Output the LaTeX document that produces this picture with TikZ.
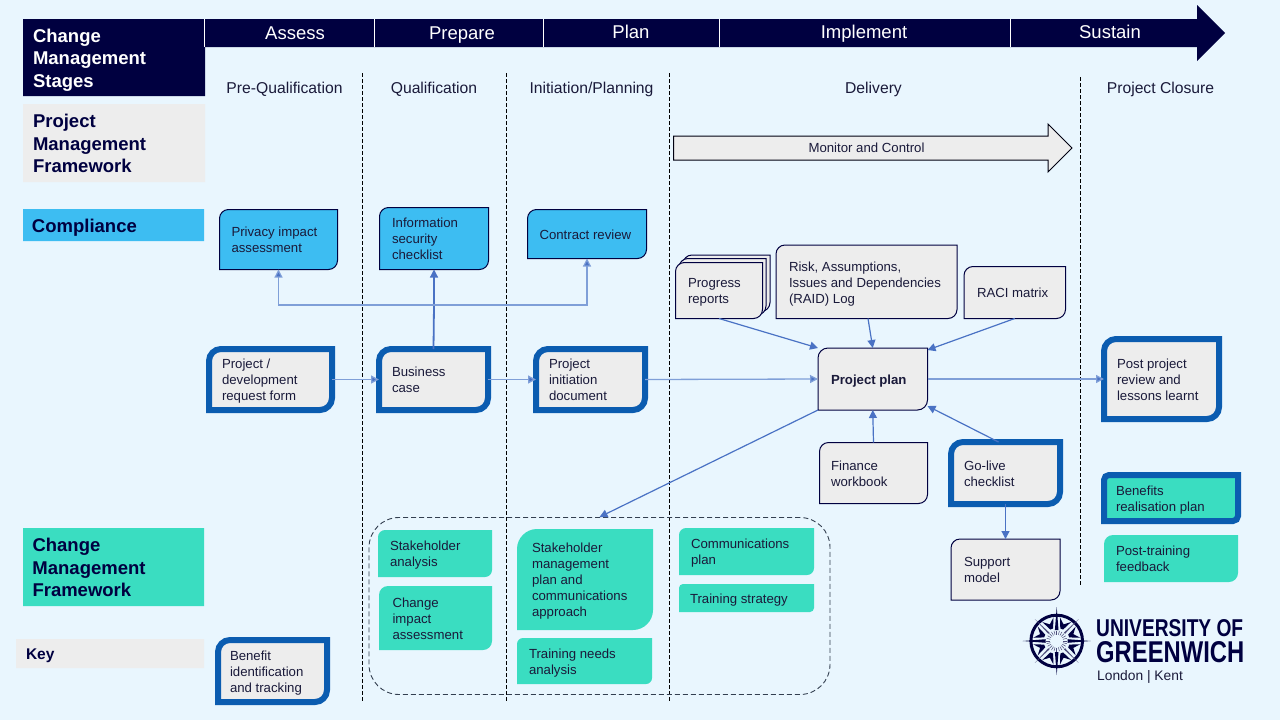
\documentclass[tikz,border=0pt]{standalone}
\usepackage{fontspec}
\usepackage{graphicx}
\setmainfont{Liberation Sans}
\usetikzlibrary{arrows.meta,calc}
\definecolor{bgc}{HTML}{E9F6FE}
\definecolor{navy}{HTML}{000040}
\definecolor{greyf}{HTML}{EDEDED}
\definecolor{skyf}{HTML}{3DBDF2}
\definecolor{tealf}{HTML}{3ADDC1}
\definecolor{thickb}{HTML}{0B5CB0}
\definecolor{arrowc}{HTML}{4A72C4}
\definecolor{arrowl}{HTML}{7F9FD8}
\definecolor{txt}{HTML}{1A1A3A}
\definecolor{groupc}{HTML}{333F50}
\newcommand{\headf}{\fontsize{18.5}{22.5}\selectfont\bfseries}
\newcommand{\dbox}[9]{%
  \path[#6] ({#2+#7},#3) -- (#4,#3) -- (#4,{#5-#7})
    .. controls (#4,{#5-.45*#7}) and ({#4-.45*#7},#5) .. ({#4-#7},#5)
    -- (#2,#5) -- (#2,{#3+#7})
    .. controls (#2,{#3+.45*#7}) and ({#2+.45*#7},#3) .. ({#2+#7},#3) -- cycle;
  \pgfmathsetlengthmacro{\dw}{#4-#2}\pgfmathsetlengthmacro{\dh}{#5-#3}%
  \pgfmathsetlengthmacro{\dt}{#4-#2-#8}%
  \node[dnode,minimum width=\dw,minimum height=\dh] (#1) at ({(#2+#4)/2},{(#3+#5)/2})
    {\hspace*{#8pt}\raisebox{0pt}[\dimexpr\height+1pt\relax][0pt]{\parbox[b]{\dt}{\fontsize{13.2}{16}\selectfont\raggedright\color{txt}#9}}};%
}
\tikzset{
  dnode/.style={rectangle,inner sep=0pt,outer sep=0pt},
  thin box/.style={draw=navy,line width=1pt,fill=greyf},
  sky box/.style={draw=navy,line width=1pt,fill=skyf},
  heavy box/.style={draw=thickb,line width=6pt,fill=greyf,miter limit=10},
  heavy teal/.style={draw=thickb,line width=6pt,fill=tealf},
  teal box/.style={fill=tealf},
  grey band/.style={fill=greyf},
  sky band/.style={fill=skyf},
  navy band/.style={fill=navy},
  flow/.style={draw=arrowc,line width=1.2pt,-{Triangle[length=8pt,width=8pt,fill=arrowc]}},
  lightflow/.style={draw=arrowl,line width=1.3pt,-{Triangle[length=8pt,width=8pt,fill=arrowc]}},
  stage/.style={text=white,font=\fontsize{18.5}{22}\selectfont,inner sep=0pt,anchor=base},
  phase/.style={text=txt,font=\fontsize{15.7}{19}\selectfont,inner sep=0pt,anchor=base},
  divider/.style={draw=black,line width=1pt,dash pattern=on 3.5pt off 2.5pt},
}
\begin{document}
\begin{tikzpicture}[x=1pt,y=-1pt]
\useasboundingbox (0,0) rectangle (1280,720);
\fill[bgc] (0,0) rectangle (1280,720);

% header arrow
\fill[navy] (204,19) -- (1197,19) -- (1197,5) -- (1225,33) -- (1197,61) -- (1197,47) -- (204,47) -- cycle;
\node[stage] (assess) at (295,39.5) {Assess};
\node[stage] (prepare) at (462,39.5) {Prepare};
\node[stage] (planst) at (631,38.5) {Plan};
\node[stage] (implement) at (864,38.5) {Implement};
\node[stage] (sustain) at (1110,38.5) {Sustain};

% left bands
\dbox{hcm}{23}{19}{205}{96}{navy band}{0}{10}{\headf\color{white}Change\\Management\\Stages}
\dbox{hpm}{23}{104}{205}{182}{grey band}{0}{10}{\headf\color{navy}Project\\Management\\Framework}
\dbox{hco}{23}{209}{204}{241}{sky band}{0}{9}{\headf\color{navy}Compliance}
\dbox{hcf}{23}{528}{204}{606}{teal box}{0}{9.5}{\headf\color{navy}Change\\Management\\Framework}
\dbox{hkey}{16}{639}{204}{668}{grey band}{0}{10}{\fontsize{15.5}{18}\selectfont\bfseries\color{navy}Key}
\foreach \x in {204.5,374.5,543.5,719.5,1010.5}
  \draw[white,line width=1pt] (\x,19) -- (\x,47);

% dividers
\draw[divider] (362.5,73) -- (362.5,701);
\draw[divider] (506.5,73) -- (506.5,701);
\draw[divider] (669.5,73) -- (669.5,701);
\draw[divider] (1080.5,77) -- (1080.5,586);

% phases
\node[phase] (p1) at (284.5,93) {Pre-Qualification};
\node[phase] (p2) at (434,93) {Qualification};
\node[phase] (p3) at (591.5,93) {Initiation/Planning};
\node[phase] (p4) at (873.5,93) {Delivery};
\node[phase] (p5) at (1160.5,93) {Project Closure};

% monitor arrow
\path[thin box,draw=black!75!navy] (673.5,136) -- (1048,136) -- (1048,124) -- (1072,148) -- (1048,172) -- (1048,160) -- (673.5,160) -- cycle;
\node[inner sep=0pt,text=txt,font=\fontsize{13.2}{15}\selectfont] (monitor) at (866.5,148) {Monitor and Control};

% dashed group
\node[draw=groupc,line width=.9pt,dash pattern=on 5pt off 3pt,rounded corners=30pt,
  minimum width=461pt,minimum height=177pt,inner sep=0pt] (group) at (599.5,606) {};

% compliance
\dbox{privacy}{219.5}{209.5}{337.5}{269.5}{sky box}{9}{12}{Privacy impact\\assessment}
\dbox{infosec}{379.5}{207.5}{488.5}{269.5}{sky box}{9}{12.5}{Information\\security\\checklist}
\dbox{contract}{527.5}{209.5}{646.5}{258.5}{sky box}{9}{12}{Contract review}

% main row
\dbox{devform}{209}{349}{332}{410}{heavy box}{12}{13}{Project /\\development\\request form}
\dbox{bizcase}{379}{349}{488}{410}{heavy box}{12}{13}{Business\\case}
\dbox{pid}{536}{349}{645}{410}{heavy box}{12}{13}{Project\\initiation\\document}
\dbox{plan}{818}{348}{927.5}{410}{thin box}{10}{13}{\bfseries Project plan}
\dbox{postproj}{1104}{339}{1219}{419}{heavy box}{12}{13}{Post project\\review and\\lessons learnt}

% progress stack
\dbox{progc}{683}{255}{770}{311.5}{thin box}{9}{10}{}
\dbox{progb}{679}{258.5}{766}{315}{thin box}{9}{10}{}
\dbox{progress}{675.5}{262.5}{762.5}{318.5}{thin box}{9}{12.5}{Progress\\reports}
\dbox{raid}{776}{245}{957}{318.5}{thin box}{9}{13}{Risk, Assumptions,\\Issues and Dependencies\\(RAID) Log}
\dbox{raci}{964}{266.5}{1065.5}{318.5}{thin box}{9}{13}{RACI matrix}
\dbox{finance}{819.5}{442.5}{927.5}{503.5}{thin box}{9}{11.5}{Finance\\workbook}
\dbox{golive}{951}{442}{1060}{504}{heavy box}{12}{13}{Go-live\\checklist}
\dbox{support}{951}{539}{1060}{600}{thin box}{9}{13}{Support\\model}

% closure teal
\dbox{benefits}{1104}{475}{1238}{521}{heavy teal}{5}{12}{Benefits\\realisation plan}
\dbox{posttrain}{1104}{535}{1238}{582}{teal box}{9}{12}{Post-training\\feedback}

% change framework
\dbox{stake}{378}{530}{492}{577}{teal box}{7}{12}{Stakeholder\\analysis}
\dbox{impact}{379}{586}{492}{650}{teal box}{9}{13.5}{Change\\impact\\assessment}
\dbox{stakeplan}{517}{529}{653}{630}{teal box}{20}{15}{Stakeholder\\management\\plan and\\communications\\approach}
\dbox{tneeds}{517}{638}{652}{684}{teal box}{6}{12}{Training needs\\analysis}
\dbox{comms}{679}{528}{814}{575}{teal box}{7}{12}{Communications\\plan}
\dbox{tstrat}{679}{584}{814}{612}{teal box}{4}{11}{Training strategy}

% key
\dbox{keybox}{218}{640}{327}{702}{heavy box}{12}{12}{Benefit\\identification\\and tracking}

% connectors
\coordinate (junction) at (434,305);
\draw[flow] (junction) -- (infosec.south);
\draw[draw=arrowc,line width=1.8pt] (bizcase.north) -- (junction);
\draw[flow,draw=arrowl] (junction) -| (privacy.south);
\draw[flow,draw=arrowl] (junction) -| (contract.south);
\draw[lightflow] (devform.east) -- (bizcase.west);
\draw[lightflow] (bizcase.east) -- (pid.west);
\draw[lightflow] (pid.east) -- (plan.west);
\draw[lightflow] (plan.east) -- (postproj.west);
\draw[flow] (progress.south) -- (plan.north west);
\draw[flow] ([xshift=1.5pt]raid.south) -- (plan.north);
\draw[flow] (raci.south) -- ([yshift=-2pt]plan.north east);
\draw[flow] (finance.north) -- (plan.south);
\draw[flow] ([xshift=-7pt]golive.north) -- ([yshift=4pt]plan.south east);
\draw[flow] (golive.south) -- (support.north);
\draw[flow] (plan.south west) -- (group.north);

% logo
\begin{scope}[shift={(1056.7,641)}]
  \draw[navy,line width=3pt] (0,0) circle (25.8);
  \foreach \a in {0,90,180,270}
    \fill[navy,rotate=\a] (-1.8,-11) -- (0,-34) -- (1.8,-11) -- cycle;
  \foreach \a in {45,135,225,315}
    \fill[navy!70!white,rotate=\a] (-.8,-11) -- (0,-31) -- (.8,-11) -- cycle;
  \foreach \a in {22.5,67.5,...,337.5}
    \fill[navy,rotate=\a] (-6,-23) -- (-1.5,-13) -- (1.5,-13) -- (6,-23) -- (0,-18) -- cycle;
  \foreach \a in {0,15,...,345}
    \draw[navy!70!white,line width=.5pt,rotate=\a] (0,-6.5) -- (0,-10.5);
\end{scope}
\node[anchor=west,inner sep=0pt,text=navy] (logo1) at (1096,628.5)
  {\resizebox{147pt}{17pt}{\bfseries UNIVERSITY OF}};
\node[anchor=west,inner sep=0pt,text=navy] (logo2) at (1096,652)
  {\resizebox{148pt}{21pt}{\bfseries GREENWICH}};
\node[anchor=west,inner sep=0pt,text=txt,font=\fontsize{13.8}{16}\selectfont] (logo3) at (1097,677)
  {London | Kent};
\end{tikzpicture}
\end{document}
